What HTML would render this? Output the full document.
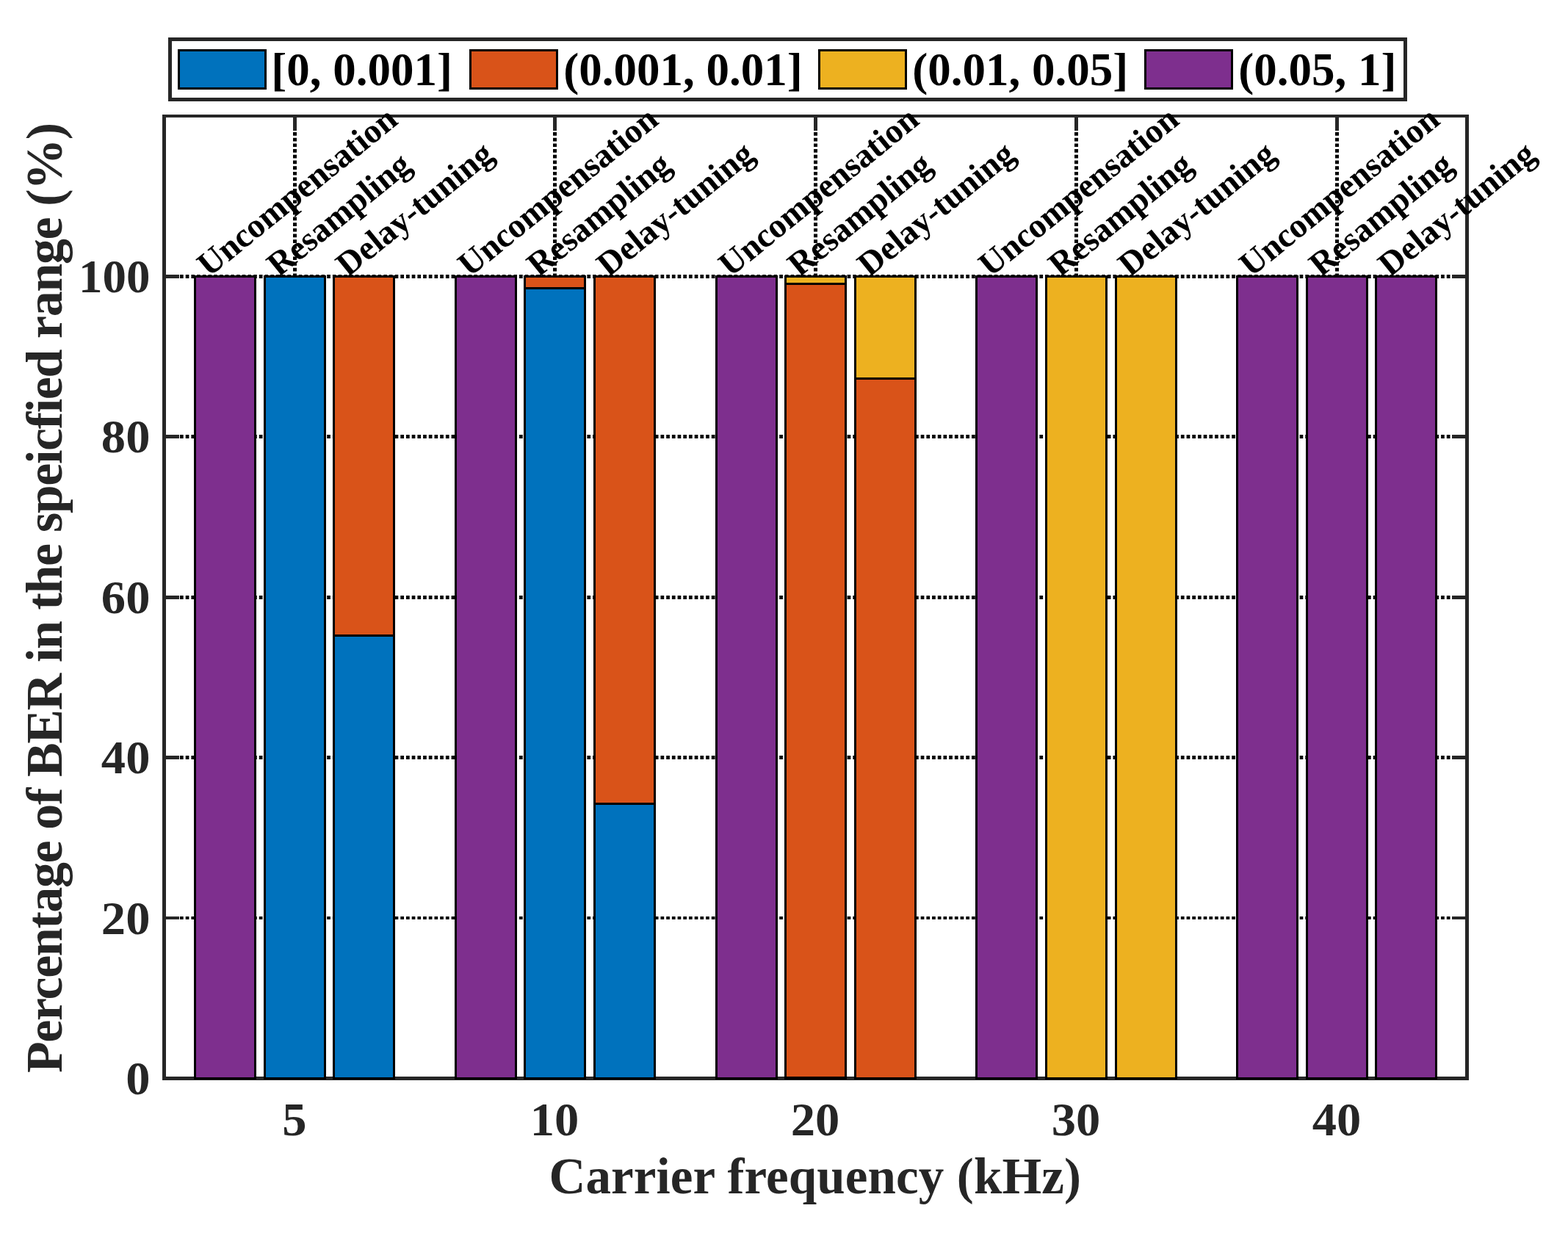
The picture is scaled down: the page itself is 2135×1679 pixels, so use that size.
<!DOCTYPE html>
<html><head><meta charset="utf-8"><title>Percentage of BER in the specified range</title>
<style>html,body{margin:0;padding:0;background:#fff;overflow:hidden}svg{display:block}</style>
</head><body>
<svg width="2135" height="1679" viewBox="0 0 2135 1679">
<rect x="0" y="0" width="2135" height="1679" fill="#fff"/>
<line x1="221.9" y1="376.5" x2="1995" y2="376.5" stroke="#000" stroke-width="5" stroke-dasharray="4.7 3.0"/>
<line x1="221.9" y1="594.5" x2="1995" y2="594.5" stroke="#000" stroke-width="5" stroke-dasharray="4.7 3.0"/>
<line x1="221.9" y1="813.5" x2="1995" y2="813.5" stroke="#000" stroke-width="5" stroke-dasharray="4.7 3.0"/>
<line x1="221.9" y1="1031.5" x2="1995" y2="1031.5" stroke="#000" stroke-width="5" stroke-dasharray="4.7 3.0"/>
<line x1="221.9" y1="1250.0" x2="1995" y2="1250.0" stroke="#000" stroke-width="4" stroke-dasharray="4.7 3.0"/>
<line x1="401.5" y1="156.9" x2="401.5" y2="1466" stroke="#000" stroke-width="5" stroke-dasharray="4.7 3.0"/>
<line x1="755.5" y1="156.9" x2="755.5" y2="1466" stroke="#000" stroke-width="5" stroke-dasharray="4.7 3.0"/>
<line x1="1110.5" y1="156.9" x2="1110.5" y2="1466" stroke="#000" stroke-width="5" stroke-dasharray="4.7 3.0"/>
<line x1="1465.5" y1="156.9" x2="1465.5" y2="1466" stroke="#000" stroke-width="5" stroke-dasharray="4.7 3.0"/>
<line x1="1820.5" y1="156.9" x2="1820.5" y2="1466" stroke="#000" stroke-width="5" stroke-dasharray="4.7 3.0"/>
<rect x="221" y="156" width="1779" height="4" fill="#262626"/>
<rect x="221" y="1466" width="1779" height="5" fill="#262626"/>
<rect x="221" y="156" width="5" height="1315" fill="#262626"/>
<rect x="1995" y="156" width="5" height="1315" fill="#262626"/>
<rect x="226" y="374" width="18" height="5" fill="#262626"/>
<rect x="1977" y="374" width="18" height="5" fill="#262626"/>
<rect x="226" y="592" width="18" height="5" fill="#262626"/>
<rect x="1977" y="592" width="18" height="5" fill="#262626"/>
<rect x="226" y="811" width="18" height="5" fill="#262626"/>
<rect x="1977" y="811" width="18" height="5" fill="#262626"/>
<rect x="226" y="1029" width="18" height="5" fill="#262626"/>
<rect x="1977" y="1029" width="18" height="5" fill="#262626"/>
<rect x="226" y="1248" width="18" height="4" fill="#262626"/>
<rect x="1977" y="1248" width="18" height="4" fill="#262626"/>
<rect x="399" y="160" width="5" height="18" fill="#262626"/>
<rect x="399" y="1448" width="5" height="18" fill="#262626"/>
<rect x="753" y="160" width="5" height="18" fill="#262626"/>
<rect x="753" y="1448" width="5" height="18" fill="#262626"/>
<rect x="1108" y="160" width="5" height="18" fill="#262626"/>
<rect x="1108" y="1448" width="5" height="18" fill="#262626"/>
<rect x="1463" y="160" width="5" height="18" fill="#262626"/>
<rect x="1463" y="1448" width="5" height="18" fill="#262626"/>
<rect x="1818" y="160" width="5" height="18" fill="#262626"/>
<rect x="1818" y="1448" width="5" height="18" fill="#262626"/>
<rect x="264" y="375" width="85" height="1095" fill="#000"/>
<rect x="267" y="378" width="79" height="1089" fill="#7E2F8E"/>
<rect x="359" y="375" width="85" height="1095" fill="#000"/>
<rect x="362" y="378" width="79" height="1089" fill="#0072BD"/>
<rect x="453" y="375" width="85" height="1095" fill="#000"/>
<rect x="456" y="378" width="79" height="486" fill="#D95319"/>
<rect x="456" y="867" width="79" height="600" fill="#0072BD"/>
<rect x="619" y="375" width="85" height="1095" fill="#000"/>
<rect x="622" y="378" width="79" height="1089" fill="#7E2F8E"/>
<rect x="713" y="375" width="85" height="1095" fill="#000"/>
<rect x="716" y="378" width="79" height="13" fill="#D95319"/>
<rect x="716" y="394" width="79" height="1073" fill="#0072BD"/>
<rect x="808" y="375" width="85" height="1095" fill="#000"/>
<rect x="811" y="378" width="79" height="715" fill="#D95319"/>
<rect x="811" y="1096" width="79" height="371" fill="#0072BD"/>
<rect x="974" y="375" width="85" height="1095" fill="#000"/>
<rect x="977" y="378" width="79" height="1089" fill="#7E2F8E"/>
<rect x="1068" y="375" width="85" height="1095" fill="#000"/>
<rect x="1071" y="378" width="79" height="7" fill="#EDB120"/>
<rect x="1071" y="388" width="79" height="1078" fill="#D95319"/>
<rect x="1163" y="375" width="85" height="1095" fill="#000"/>
<rect x="1166" y="378" width="79" height="136" fill="#EDB120"/>
<rect x="1166" y="517" width="79" height="950" fill="#D95319"/>
<rect x="1328" y="375" width="85" height="1095" fill="#000"/>
<rect x="1331" y="378" width="79" height="1089" fill="#7E2F8E"/>
<rect x="1423" y="375" width="85" height="1095" fill="#000"/>
<rect x="1426" y="378" width="79" height="1089" fill="#EDB120"/>
<rect x="1518" y="375" width="85" height="1095" fill="#000"/>
<rect x="1521" y="378" width="79" height="1089" fill="#EDB120"/>
<rect x="1683" y="375" width="85" height="1095" fill="#000"/>
<rect x="1686" y="378" width="79" height="1089" fill="#7E2F8E"/>
<rect x="1778" y="375" width="85" height="1095" fill="#000"/>
<rect x="1781" y="378" width="79" height="1089" fill="#7E2F8E"/>
<rect x="1872" y="375" width="85" height="1095" fill="#000"/>
<rect x="1875" y="378" width="79" height="1089" fill="#7E2F8E"/>
<text transform="translate(204.4,1490.3) scale(1.04,1)" text-anchor="end" style="font-family:'Liberation Serif','Times New Roman',serif;font-weight:bold;font-size:64px" fill="#262626">0</text>
<text transform="translate(204.4,1271.8) scale(1.04,1)" text-anchor="end" style="font-family:'Liberation Serif','Times New Roman',serif;font-weight:bold;font-size:64px" fill="#262626">20</text>
<text transform="translate(204.4,1053.3) scale(1.04,1)" text-anchor="end" style="font-family:'Liberation Serif','Times New Roman',serif;font-weight:bold;font-size:64px" fill="#262626">40</text>
<text transform="translate(204.4,835.3) scale(1.04,1)" text-anchor="end" style="font-family:'Liberation Serif','Times New Roman',serif;font-weight:bold;font-size:64px" fill="#262626">60</text>
<text transform="translate(204.4,616.3) scale(1.04,1)" text-anchor="end" style="font-family:'Liberation Serif','Times New Roman',serif;font-weight:bold;font-size:64px" fill="#262626">80</text>
<text transform="translate(204.4,398.3) scale(1.015,1)" text-anchor="end" style="font-family:'Liberation Serif','Times New Roman',serif;font-weight:bold;font-size:64px" fill="#262626">100</text>
<text transform="translate(401.0,1545.5) scale(1.04,1)" text-anchor="middle" style="font-family:'Liberation Serif','Times New Roman',serif;font-weight:bold;font-size:64px" fill="#262626">5</text>
<text transform="translate(755.0,1545.5) scale(1.04,1)" text-anchor="middle" style="font-family:'Liberation Serif','Times New Roman',serif;font-weight:bold;font-size:64px" fill="#262626">10</text>
<text transform="translate(1110.0,1545.5) scale(1.04,1)" text-anchor="middle" style="font-family:'Liberation Serif','Times New Roman',serif;font-weight:bold;font-size:64px" fill="#262626">20</text>
<text transform="translate(1465.0,1545.5) scale(1.04,1)" text-anchor="middle" style="font-family:'Liberation Serif','Times New Roman',serif;font-weight:bold;font-size:64px" fill="#262626">30</text>
<text transform="translate(1820.0,1545.5) scale(1.04,1)" text-anchor="middle" style="font-family:'Liberation Serif','Times New Roman',serif;font-weight:bold;font-size:64px" fill="#262626">40</text>
<text x="747.5" y="1625" style="font-family:'Liberation Serif','Times New Roman',serif;font-weight:bold;font-size:69px" fill="#262626" textLength="724.4" lengthAdjust="spacing">Carrier frequency (kHz)</text>
<text transform="translate(83.9,1461) rotate(-90)" x="0" y="0" style="font-family:'Liberation Serif','Times New Roman',serif;font-weight:bold;font-size:70px" fill="#262626" textLength="1294.2" lengthAdjust="spacing">Percentage of BER in the speicfied range (%)</text>
<text x="284.60 310.72 330.83 346.88 364.96 395.09 415.20 431.25 451.36 465.44 483.52 495.56 505.61 523.69" y="378.10 356.88 340.53 327.49 312.79 288.31 271.96 258.92 242.58 231.14 216.44 206.66 198.49 183.80" rotate="-39.1" style="font-family:'Liberation Serif','Times New Roman',serif;font-weight:bold;font-size:46.6px" fill="#000">Uncompensation</text>
<text x="379.60 405.72 421.77 435.84 453.92 484.05 504.16 514.21 524.26 544.37" y="378.10 356.88 343.83 332.39 317.70 293.22 276.87 268.71 260.54 244.20" rotate="-39.1" style="font-family:'Liberation Serif','Times New Roman',serif;font-weight:bold;font-size:46.6px" fill="#000">Resampling</text>
<text x="473.60 499.72 515.77 525.81 543.90 561.98 574.02 586.06 606.18 626.29 636.34 656.45" y="378.10 356.88 343.83 335.67 320.97 306.28 296.49 286.70 270.36 254.01 245.85 229.50" rotate="-39.1" style="font-family:'Liberation Serif','Times New Roman',serif;font-weight:bold;font-size:46.6px" fill="#000">Delay-tuning</text>
<text x="639.60 665.72 685.83 701.88 719.96 750.09 770.20 786.25 806.36 820.44 838.52 850.56 860.61 878.69" y="378.10 356.88 340.53 327.49 312.79 288.31 271.96 258.92 242.58 231.14 216.44 206.66 198.49 183.80" rotate="-39.1" style="font-family:'Liberation Serif','Times New Roman',serif;font-weight:bold;font-size:46.6px" fill="#000">Uncompensation</text>
<text x="733.60 759.72 775.77 789.84 807.92 838.05 858.16 868.21 878.26 898.37" y="378.10 356.88 343.83 332.39 317.70 293.22 276.87 268.71 260.54 244.20" rotate="-39.1" style="font-family:'Liberation Serif','Times New Roman',serif;font-weight:bold;font-size:46.6px" fill="#000">Resampling</text>
<text x="828.60 854.72 870.77 880.81 898.90 916.98 929.02 941.06 961.18 981.29 991.34 1011.45" y="378.10 356.88 343.83 335.67 320.97 306.28 296.49 286.70 270.36 254.01 245.85 229.50" rotate="-39.1" style="font-family:'Liberation Serif','Times New Roman',serif;font-weight:bold;font-size:46.6px" fill="#000">Delay-tuning</text>
<text x="994.60 1020.72 1040.83 1056.88 1074.96 1105.09 1125.20 1141.25 1161.36 1175.44 1193.52 1205.56 1215.61 1233.69" y="378.10 356.88 340.53 327.49 312.79 288.31 271.96 258.92 242.58 231.14 216.44 206.66 198.49 183.80" rotate="-39.1" style="font-family:'Liberation Serif','Times New Roman',serif;font-weight:bold;font-size:46.6px" fill="#000">Uncompensation</text>
<text x="1088.60 1114.72 1130.77 1144.84 1162.92 1193.05 1213.16 1223.21 1233.26 1253.37" y="378.10 356.88 343.83 332.39 317.70 293.22 276.87 268.71 260.54 244.20" rotate="-39.1" style="font-family:'Liberation Serif','Times New Roman',serif;font-weight:bold;font-size:46.6px" fill="#000">Resampling</text>
<text x="1183.60 1209.72 1225.77 1235.81 1253.90 1271.98 1284.02 1296.06 1316.18 1336.29 1346.34 1366.45" y="378.10 356.88 343.83 335.67 320.97 306.28 296.49 286.70 270.36 254.01 245.85 229.50" rotate="-39.1" style="font-family:'Liberation Serif','Times New Roman',serif;font-weight:bold;font-size:46.6px" fill="#000">Delay-tuning</text>
<text x="1348.60 1374.72 1394.83 1410.88 1428.96 1459.09 1479.20 1495.25 1515.36 1529.44 1547.52 1559.56 1569.61 1587.69" y="378.10 356.88 340.53 327.49 312.79 288.31 271.96 258.92 242.58 231.14 216.44 206.66 198.49 183.80" rotate="-39.1" style="font-family:'Liberation Serif','Times New Roman',serif;font-weight:bold;font-size:46.6px" fill="#000">Uncompensation</text>
<text x="1443.60 1469.72 1485.77 1499.84 1517.92 1548.05 1568.16 1578.21 1588.26 1608.37" y="378.10 356.88 343.83 332.39 317.70 293.22 276.87 268.71 260.54 244.20" rotate="-39.1" style="font-family:'Liberation Serif','Times New Roman',serif;font-weight:bold;font-size:46.6px" fill="#000">Resampling</text>
<text x="1538.60 1564.72 1580.77 1590.81 1608.90 1626.98 1639.02 1651.06 1671.18 1691.29 1701.34 1721.45" y="378.10 356.88 343.83 335.67 320.97 306.28 296.49 286.70 270.36 254.01 245.85 229.50" rotate="-39.1" style="font-family:'Liberation Serif','Times New Roman',serif;font-weight:bold;font-size:46.6px" fill="#000">Delay-tuning</text>
<text x="1703.60 1729.72 1749.83 1765.88 1783.96 1814.09 1834.20 1850.25 1870.36 1884.44 1902.52 1914.56 1924.61 1942.69" y="378.10 356.88 340.53 327.49 312.79 288.31 271.96 258.92 242.58 231.14 216.44 206.66 198.49 183.80" rotate="-39.1" style="font-family:'Liberation Serif','Times New Roman',serif;font-weight:bold;font-size:46.6px" fill="#000">Uncompensation</text>
<text x="1798.60 1824.72 1840.77 1854.84 1872.92 1903.05 1923.16 1933.21 1943.26 1963.37" y="378.10 356.88 343.83 332.39 317.70 293.22 276.87 268.71 260.54 244.20" rotate="-39.1" style="font-family:'Liberation Serif','Times New Roman',serif;font-weight:bold;font-size:46.6px" fill="#000">Resampling</text>
<text x="1892.60 1918.72 1934.77 1944.81 1962.90 1980.98 1993.02 2005.06 2025.18 2045.29 2055.34 2075.45" y="378.10 356.88 343.83 335.67 320.97 306.28 296.49 286.70 270.36 254.01 245.85 229.50" rotate="-39.1" style="font-family:'Liberation Serif','Times New Roman',serif;font-weight:bold;font-size:46.6px" fill="#000">Delay-tuning</text>
<rect x="229" y="51" width="1687" height="87" fill="#fff"/>
<rect x="229" y="51" width="1687" height="5" fill="#262626"/>
<rect x="229" y="133" width="1687" height="5" fill="#262626"/>
<rect x="229" y="51" width="5" height="87" fill="#262626"/>
<rect x="1911" y="51" width="5" height="87" fill="#262626"/>
<rect x="242" y="67" width="121" height="55" fill="#000"/>
<rect x="245" y="70" width="115" height="49" fill="#0072BD"/>
<text x="369.3" y="116.2" style="font-family:'Liberation Serif','Times New Roman',serif;font-weight:bold;font-size:63px" fill="#000">[0, 0.001]</text>
<rect x="639" y="67" width="121" height="55" fill="#000"/>
<rect x="642" y="70" width="115" height="49" fill="#D95319"/>
<text x="767.2" y="116.2" style="font-family:'Liberation Serif','Times New Roman',serif;font-weight:bold;font-size:63px" fill="#000">(0.001, 0.01]</text>
<rect x="1114" y="67" width="121" height="55" fill="#000"/>
<rect x="1117" y="70" width="115" height="49" fill="#EDB120"/>
<text x="1242.2" y="116.2" style="font-family:'Liberation Serif','Times New Roman',serif;font-weight:bold;font-size:63px" fill="#000">(0.01, 0.05]</text>
<rect x="1558" y="67" width="121" height="55" fill="#000"/>
<rect x="1561" y="70" width="115" height="49" fill="#7E2F8E"/>
<text x="1686.2" y="116.2" style="font-family:'Liberation Serif','Times New Roman',serif;font-weight:bold;font-size:63px" fill="#000">(0.05, 1]</text>
</svg>
</body></html>
